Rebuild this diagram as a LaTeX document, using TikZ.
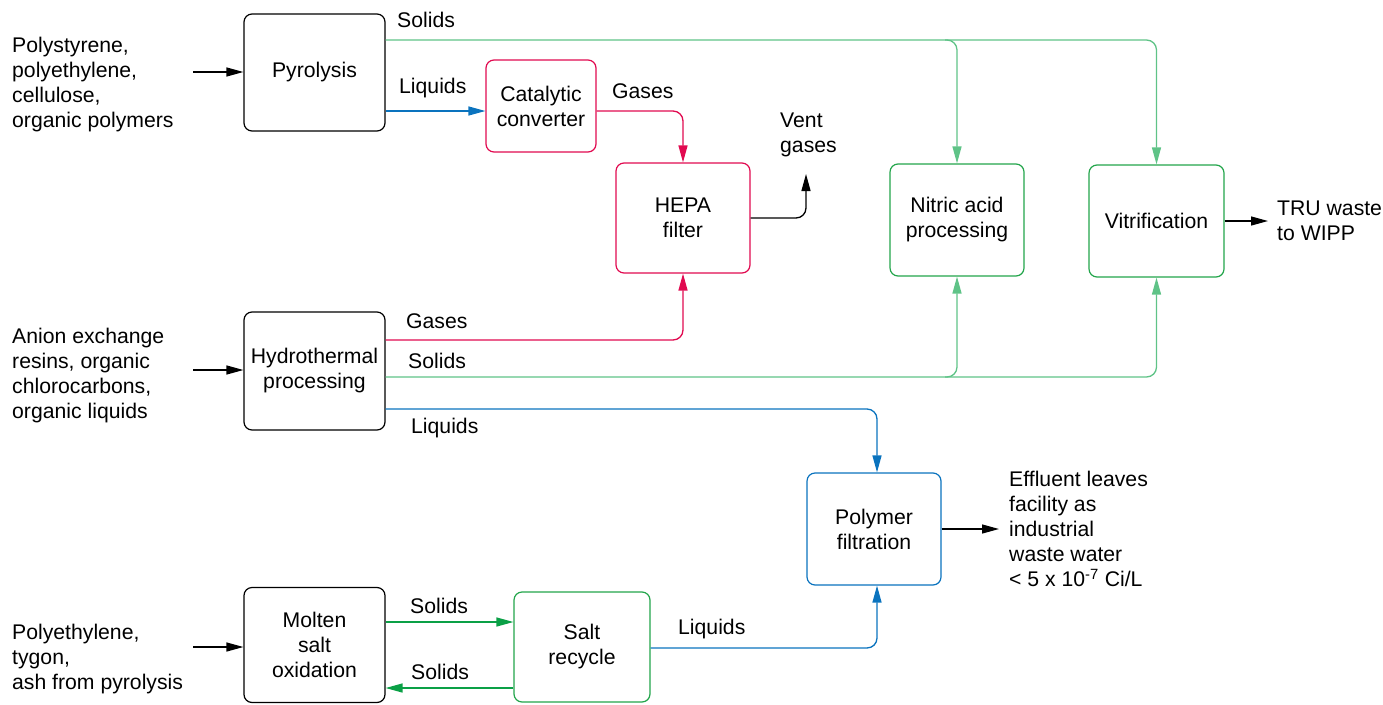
\documentclass[tikz,border=0pt]{standalone}
\usepackage{fontspec}
\setmainfont{Liberation Sans}
\usetikzlibrary{arrows.meta}
\definecolor{pipered}{RGB}{225,10,80}
\definecolor{pipeblue}{RGB}{10,115,190}
\definecolor{pipegreen}{RGB}{95,195,135}
\definecolor{boxgreen}{RGB}{35,165,75}
\definecolor{loopgreen}{RGB}{10,160,70}
\tikzset{unit/.style={draw=#1, rounded corners=8pt, line width=1.2pt,
 align=center, fill=white, inner sep=0pt},
 flow/.style={draw=#1, line width=1.3pt, rounded corners=10pt,
 -{Triangle[length=17pt,width=9pt,fill=#1]}},
 tag/.style={inner sep=0pt, anchor=west, align=left}
}

\begin{document}
\begin{tikzpicture}[x=1pt, y=-1pt, font=\fontsize{21.2}{25}\selectfont]

\useasboundingbox (0,0) rectangle (1383,704);

\node [unit=black, minimum width=141pt, minimum height=117pt] (pyro) at (314.5,72.5) {Pyrolysis};
\node [unit=pipered, minimum width=110pt, minimum height=92pt] (cat) at (541,106) {Catalytic\\converter};
\node [unit=pipered, minimum width=134pt, minimum height=110pt] (hepa) at (683,218) {HEPA\\filter};
\node [unit=boxgreen, minimum width=134pt, minimum height=112pt] (nitric) at (957,220) {Nitric acid\\processing};
\node [unit=boxgreen, minimum width=135pt, minimum height=112pt] (vitr) at (1156.5,221) {Vitrification};
\node [unit=black, minimum width=141pt, minimum height=118pt] (hydro) at (314.5,371) {Hydrothermal\\processing};
\node [unit=pipeblue, minimum width=134pt, minimum height=112pt] (poly) at (874,529) {Polymer\\filtration};
\node [unit=black, minimum width=141pt, minimum height=115pt] (molten) at (314.5,645) {Molten\\salt\\oxidation};
\node [unit=boxgreen, minimum width=136pt, minimum height=110pt] (salt) at (582,647) {Salt\\recycle};

\foreach \y/\n in {72/pyro, 370/hydro, 647/molten}
  \draw [flow=black, rounded corners=0pt] (193,\y) -- (\n.west |- 0,\y);

\node [tag] (feedA) at (12,85) {Polystyrene,\\polyethylene,\\cellulose,\\organic polymers};
\node [tag] (feedB) at (12,376) {Anion exchange\\resins, organic\\chlorocarbons,\\organic liquids};
\node [tag] (feedC) at (12,659) {Polyethylene,\\tygon,\\ash from pyrolysis};

\coordinate (solA) at (945,40);
\coordinate (solB) at (945,377);
\coordinate (vent) at (806,174);
\coordinate (tru) at (1268,221);
\coordinate (eff) at (999,529);

\draw [flow=pipegreen] (pyro.east |- 0,40) -| (nitric.north);
\draw [flow=pipegreen] (solA) -| (vitr.north);
\draw [flow=pipeblue] (pyro.east |- 0,111) -- (cat.west |- 0,111);
\draw [flow=pipered] (cat.east |- 0,111) -| (hepa.north);
\draw [flow=black] (hepa.east) -| (vent);

\draw [flow=pipered] (hydro.east |- 0,340) -| (hepa.south);
\draw [flow=pipegreen] (hydro.east |- 0,377) -| (nitric.south);
\draw [flow=pipegreen] (solB) -| (vitr.south);
\draw [flow=pipeblue] (hydro.east |- 0,409) -| (877,0 |- poly.north);

\draw [flow=black] (vitr.east) -- (tru);
\draw [flow=black] (poly.east) -- (eff);

\draw [flow=loopgreen] (molten.east |- 0,622) -- (salt.west |- 0,622);
\draw [flow=loopgreen] (salt.west |- 0,688) -- (molten.east |- 0,688);
\draw [flow=pipeblue] (salt.east |- 0,648) -| (877,0 |- poly.south);

\node [tag] (l1) at (397,20) {Solids};
\node [tag] (l2) at (399,88) {Liquids};
\node [tag] (l3) at (612,91) {Gases};
\node [tag] (l4) at (780,135) {Vent\\gases};
\node [tag] (l5) at (406,321) {Gases};
\node [tag] (l6) at (408,361) {Solids};
\node [tag] (l7) at (411,428) {Liquids};
\node [tag] (l8) at (1277,221) {TRU waste\\to WIPP};
\node [tag] (l9) at (1009,529) {Effluent leaves\\facility as\\industrial\\waste water\\< 5 x 10\textsuperscript{-7} Ci/L};
\node [tag] (l10) at (410,606) {Solids};
\node [tag] (l11) at (411,672) {Solids};
\node [tag] (l12) at (678,629) {Liquids};
\end{tikzpicture}
\end{document}
